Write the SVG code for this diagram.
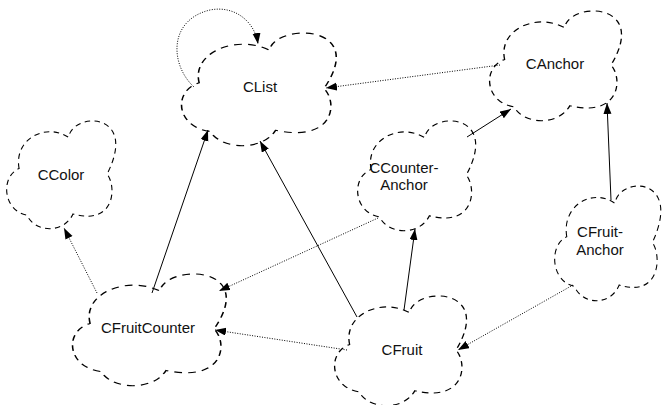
<svg xmlns="http://www.w3.org/2000/svg" xmlns:xlink="http://www.w3.org/1999/xlink" width="663" height="405" viewBox="0 0 663 405">
<style>
.cloud{fill:none;stroke:#000;stroke-width:1;stroke-dasharray:5 4;vector-effect:non-scaling-stroke}
.lbl{font-family:"Liberation Sans",Arial,sans-serif;font-size:15px;fill:#111;text-anchor:middle}
.solid{fill:none;stroke:#000;stroke-width:1}
.dot{fill:none;stroke:#000;stroke-width:1;stroke-dasharray:1 1.5}
</style>
<defs>
<path id="cloud" d="M11,45 C6,18 35,2 56,16 C60,-8 120,-8 91,50 C100,62 98,98 60,87 C52,105 26,105 18,88 C-4,84 -6,52 11,45 Z"/>
<marker id="arr" markerUnits="userSpaceOnUse" markerWidth="12" markerHeight="10" refX="11" refY="4" orient="auto">
<path d="M0,0 L11,4 L0,8 Z" fill="#000"/>
</marker>
</defs>
<rect width="663" height="405" fill="#fff"/>
<g id="connectors">
<path class="dot" d="M194,87 C170,65 168,20 210,10 C235,5 255,22 258,44" marker-end="url(#arr)"/>
<path class="dot" d="M500,65 L326,88" marker-end="url(#arr)"/>
<path class="solid" d="M467,137 L511,109" marker-end="url(#arr)"/>
<path class="solid" d="M611,200 L607,103" marker-end="url(#arr)"/>
<path class="dot" d="M378,218 L219,291" marker-end="url(#arr)"/>
<path class="dot" d="M347,350 L215,330" marker-end="url(#arr)"/>
<path class="solid" d="M357,317 L260,141" marker-end="url(#arr)"/>
<path class="solid" d="M404,310 L415,229" marker-end="url(#arr)"/>
<path class="solid" d="M152,293 L208,130" marker-end="url(#arr)"/>
<path class="dot" d="M97,293 L64,228" marker-end="url(#arr)"/>
<path class="dot" d="M573,285 L458,350" marker-end="url(#arr)"/>
</g>
<g id="CList">
<use xlink:href="#cloud" class="cloud" transform="translate(182,32) scale(1.56,1.13)"/>
<text class="lbl" x="260" y="92">CList</text>
</g>
<g id="CAnchor">
<use xlink:href="#cloud" class="cloud" transform="translate(490,10) scale(1.33,1.10)"/>
<text class="lbl" x="555" y="69">CAnchor</text>
</g>
<g id="CColor">
<use xlink:href="#cloud" class="cloud" transform="translate(7,120) scale(1.10,1.08)"/>
<text class="lbl" x="61" y="180">CColor</text>
</g>
<g id="CCounterAnchor">
<use xlink:href="#cloud" class="cloud" transform="translate(358,120) scale(1.19,1.10)"/>
<text class="lbl" x="404" y="173">CCounter-</text>
<text class="lbl" x="404" y="190">Anchor</text>
</g>
<g id="CFruitAnchor">
<use xlink:href="#cloud" class="cloud" transform="translate(555,185) scale(1.07,1.15)"/>
<text class="lbl" x="600" y="237">CFruit-</text>
<text class="lbl" x="600" y="255">Anchor</text>
</g>
<g id="CFruitCounter">
<use xlink:href="#cloud" class="cloud" transform="translate(73,273) scale(1.55,1.12)"/>
<text class="lbl" x="148" y="333">CFruitCounter</text>
</g>
<g id="CFruit">
<use xlink:href="#cloud" class="cloud" transform="translate(335,295) scale(1.33,1.10)"/>
<text class="lbl" x="402" y="355">CFruit</text>
</g>
</svg>
